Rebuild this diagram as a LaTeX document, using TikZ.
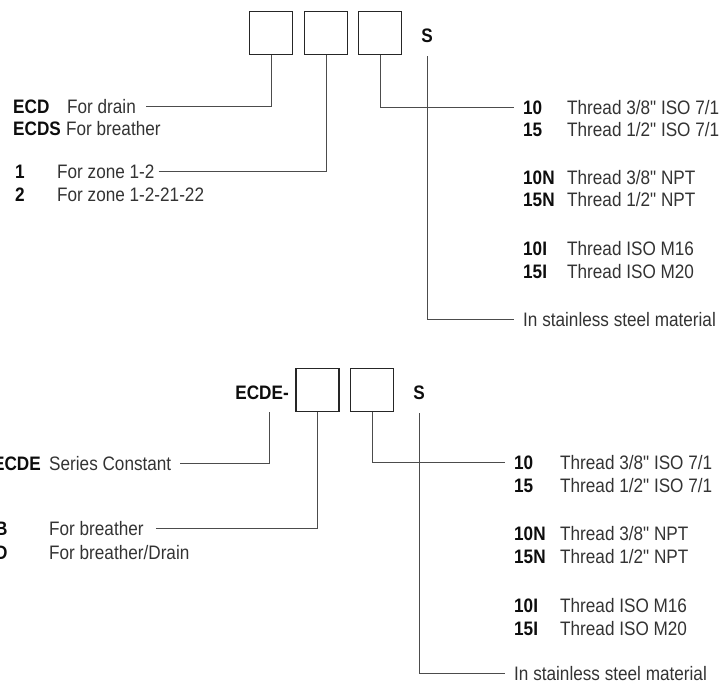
\documentclass[tikz,border=0pt]{standalone}
\usepackage{fontspec}
\setmainfont{Liberation Sans}[FakeStretch=0.88, Ligatures=TeXOff]
\usetikzlibrary{positioning}

\begin{document}
\begin{tikzpicture}[
    x=1pt, y=-1pt,
    font=\fontsize{19.5}{23}\selectfont,
    slot/.style={
        rectangle, draw=black!85, line width=1.1pt,
        minimum width=43pt, minimum height=43pt, inner sep=0pt
    },
    code/.style={
        anchor=west, inner sep=0pt, text height=14pt, text depth=0pt,
        font=\fontsize{19.5}{23}\selectfont\bfseries, text=black!95
    },
    desc/.style={
        anchor=west, inner sep=0pt, text height=14pt, text depth=0pt,
        text=black!80
    },
    lead/.style={draw=black!70, line width=1pt}
]

\clip (0,0) rectangle (724,686);

% ---------------- Code ECD ----------------
\node[slot] (t1) at (271,33) {};
\node[slot] (t2) at (326,33) {};
\node[slot] (t3) at (380,33) {};
\node[code, anchor=center] (ts) at (427,35) {S};

\node[code] (ecd) at (13,106) {ECD};
\node[desc] (drain) at (67,106) {For drain};
\node[code] (ecds) at (13,128) {ECDS};
\node[desc] (breather) at (66,128) {For breather};
\node[code] (z1) at (15,171) {1};
\node[desc] (zone12) at (57,171) {For zone 1-2};
\node[code] (z2) at (15,194) {2};
\node[desc] (zone1222) at (57,194) {For zone 1-2-21-22};

\node[code] (t10) at (523,107) {10};
\node[desc] at (567,107) {Thread 3/8" ISO 7/1};
\node[code] (t15) at (523,129) {15};
\node[desc] at (567,129) {Thread 1/2" ISO 7/1};
\node[code] (t10n) at (523,177) {10N};
\node[desc] at (567,177) {Thread 3/8" NPT};
\node[code] (t15n) at (523,199) {15N};
\node[desc] at (567,199) {Thread 1/2" NPT};
\node[code] (t10i) at (523,248) {10I};
\node[desc] at (567,248) {Thread ISO M16};
\node[code] (t15i) at (523,271) {15I};
\node[desc] at (567,271) {Thread ISO M20};
\node[desc] (tsteel) at (523,319) {In stainless steel material};

% ---------------- Code ECDE ----------------
\node[code, anchor=east] (ecdepre) at (289,392) {ECDE-};
\node[slot] (b1) at (317.5,390) {};
\node[slot] (b2) at (372,390) {};
\node[code, anchor=center] (bs) at (419,392) {S};
\coordinate (ecdefoot) at (269,412);

\node[code, anchor=east] (ecde) at (41,463) {ECDE};
\node[desc] (series) at (49,463) {Series Constant};
\node[code] (kb) at (-5,528) {B};
\node[desc] (forb) at (49,528) {For breather};
\node[code] (kd) at (-5,552) {D};
\node[desc] (forbd) at (49,552) {For breather/Drain};

\node[code] (b10) at (514,462) {10};
\node[desc] at (560,462) {Thread 3/8" ISO 7/1};
\node[code] (b15) at (514,485) {15};
\node[desc] at (560,485) {Thread 1/2" ISO 7/1};
\node[code] (b10n) at (514,533) {10N};
\node[desc] at (560,533) {Thread 3/8" NPT};
\node[code] (b15n) at (514,556) {15N};
\node[desc] at (560,556) {Thread 1/2" NPT};
\node[code] (b10i) at (514,605) {10I};
\node[desc] at (560,605) {Thread ISO M16};
\node[code] (b15i) at (514,628) {15I};
\node[desc] at (560,628) {Thread ISO M20};
\node[desc] (bsteel) at (514,673) {In stainless steel material};

% ---------------- Leads ----------------
\draw[lead, shorten <=10pt] (drain.east) -| (t1.south);
\draw[lead, shorten <=4pt] (zone12.east) -| (t2.south);
\draw[lead, shorten >=9pt] (t3.south) |- (t10.west);
\draw[lead, shorten <=14pt, shorten >=9pt] (ts.south) |- (tsteel.west);

\draw[lead, shorten <=9pt] (series.east) -| (ecdefoot);
\draw[lead, shorten <=12pt] (forb.east) -| (b1.south);
\draw[lead, shorten >=9pt] (b2.south) |- (b10.west);
\draw[lead, shorten <=14pt, shorten >=9pt] (bs.south) |- (bsteel.west);

\end{tikzpicture}
\end{document}
